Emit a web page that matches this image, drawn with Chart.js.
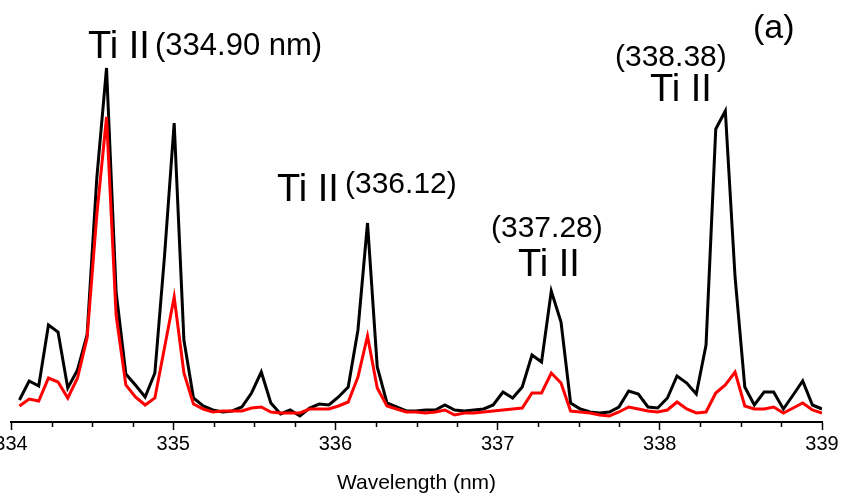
<!DOCTYPE html>
<html>
<head>
<meta charset="utf-8">
<script src="https://cdn.jsdelivr.net/npm/chart.js@4/dist/chart.umd.min.js"></script>
<style>
  html, body { margin: 0; padding: 0; background: #fff; }
  #spectrum { display: block; }
</style>
</head>
<body>
<canvas id="spectrum" width="846" height="501"></canvas>
<script>
// Wavelength grid of the spectrometer (nm)
const wavelengths = [
    334.052, 334.112, 334.171, 334.231, 334.290, 334.350, 334.410, 334.469, 334.529, 334.589,
    334.648, 334.708, 334.767, 334.827, 334.887, 334.946, 335.006, 335.066, 335.125, 335.185,
    335.244, 335.304, 335.364, 335.423, 335.483, 335.543, 335.602, 335.662, 335.721, 335.781,
    335.841, 335.900, 335.960, 336.019, 336.079, 336.139, 336.198, 336.258, 336.318, 336.377,
    336.437, 336.496, 336.556, 336.616, 336.675, 336.735, 336.795, 336.854, 336.914, 336.973,
    337.033, 337.093, 337.152, 337.212, 337.271, 337.331, 337.391, 337.450, 337.510, 337.570,
    337.629, 337.689, 337.748, 337.808, 337.868, 337.927, 337.987, 338.047, 338.106, 338.166,
    338.225, 338.285, 338.345, 338.404, 338.464, 338.524, 338.583, 338.643, 338.702, 338.762,
    338.822, 338.881, 338.941, 339.000
];

// Intensity (a.u.), black trace
const blackIntensity = [
    22, 41, 36, 97, 90, 34, 52, 87, 244, 354,
    130, 48, 37, 25, 49, 165, 299, 82, 24, 16,
    12, 10, 11, 15, 29, 50, 19, 8, 12, 6,
    14, 18, 17, 25, 35, 92, 199, 55, 19, 15,
    11, 11, 12, 12, 17, 12, 11, 12, 13, 17,
    30, 24, 35, 67, 60, 131, 100, 19, 13, 10,
    9, 10, 15, 31, 28, 15, 14, 24, 46, 39,
    28, 77, 293, 311, 145, 35, 17, 30, 30, 13,
    27, 41, 17, 13
];

// Intensity (a.u.), red trace
const redIntensity = [
    16, 23, 21, 44, 40, 24, 44, 84, 207, 305,
    107, 37, 25, 17, 24, 74, 125, 49, 18, 13,
    10, 11, 11, 11, 14, 15, 10, 9, 9, 9,
    13, 13, 13, 16, 20, 45, 86, 34, 16, 13,
    10, 10, 9, 10, 12, 7, 9, 9, 10, 11,
    12, 13, 14, 29, 29, 49, 39, 11, 10, 9,
    7, 6, 10, 15, 13, 11, 10, 12, 20, 13,
    9, 10, 29, 37, 50, 16, 13, 13, 15, 9,
    14, 19, 12, 9
];

const xMin = 334;
const xMax = 339;
const yMax = 422;

const FONT = "'Liberation Sans', Arial, sans-serif";

// text labels on the plot: [text, size, x, y]
const annotations = [
    ["Ti II", 38, 88, 58],
    ["(334.90 nm)", 31, 155, 55],
    ["Ti II", 38, 277, 201],
    ["(336.12)", 30, 345, 193],
    ["(337.28)", 30, 491, 237],
    ["Ti II", 38, 518, 276],
    ["(338.38)", 30, 615, 66],
    ["Ti II", 38, 650, 101],
    ["(a)", 34, 753, 38]
];

function toPoints(ys) {
    return wavelengths.map((x, i) => ({ x: x, y: ys[i] }));
}

function isMajor(v) {
    return Math.abs(v - Math.round(v)) < 1e-6;
}

const minorTicks = {
    id: 'minorTicks',
    afterDraw(chart) {
        const scale = chart.scales.x;
        const ctx = chart.ctx;
        ctx.save();
        ctx.strokeStyle = '#000';
        ctx.lineWidth = 1.5;
        scale.ticks.forEach(t => {
            if (isMajor(t.value)) return;
            const px = Math.round(scale.getPixelForValue(t.value)) + 0.5;
            ctx.beginPath();
            ctx.moveTo(px, scale.top);
            ctx.lineTo(px, scale.top + 5);
            ctx.stroke();
        });
        ctx.restore();
    }
};

const labels = {
    id: 'labels',
    afterDraw(chart) {
        const ctx = chart.ctx;
        ctx.save();
        ctx.fillStyle = '#000';
        ctx.textAlign = 'left';
        ctx.textBaseline = 'alphabetic';
        annotations.forEach(([text, size, x, y]) => {
            ctx.font = size + 'px ' + FONT;
            ctx.fillText(text, x, y);
        });
        ctx.restore();
    }
};

const ctx = document.getElementById('spectrum').getContext('2d');
new Chart(ctx, {
    type: 'line',
    data: {
        datasets: [{
            label: 'red',
            data: toPoints(redIntensity),
            borderColor: '#ff0000',
            borderWidth: 3,
            pointRadius: 0,
            tension: 0,
            fill: false
        }, {
            label: 'black',
            data: toPoints(blackIntensity),
            borderColor: '#000000',
            borderWidth: 3,
            pointRadius: 0,
            tension: 0,
            fill: false
        }]
    },
    options: {
        responsive: false,
        animation: false,
        layout: { padding: { left: 11, right: 24, top: 0, bottom: 0 } },
        plugins: { legend: { display: false }, tooltip: { enabled: false } },
        scales: {
            x: {
                type: 'linear',
                min: xMin,
                max: xMax,
                afterFit(scale) {
                    scale.height = 79;
                    scale.paddingLeft = 0;
                    scale.paddingRight = 0;
                },
                ticks: {
                    stepSize: 0.25,
                    autoSkip: false,
                    maxRotation: 0,
                    padding: 2,
                    color: '#000',
                    font: { family: FONT, size: 20 },
                    callback: v => isMajor(v) ? String(Math.round(v)) : ''
                },
                grid: {
                    drawOnChartArea: false,
                    tickLength: 8,
                    tickWidth: 1.5,
                    tickColor: c => (c.tick && isMajor(c.tick.value)) ? '#000' : 'rgba(0,0,0,0)'
                },
                border: { color: '#000', width: 2 },
                title: {
                    display: true,
                    text: 'Wavelength (nm)',
                    color: '#000',
                    font: { family: FONT, size: 21 },
                    padding: { top: 0, bottom: 5 }
                }
            },
            y: { display: false, min: 0, max: yMax }
        }
    },
    plugins: [minorTicks, labels]
});
</script>
</body>
</html>
